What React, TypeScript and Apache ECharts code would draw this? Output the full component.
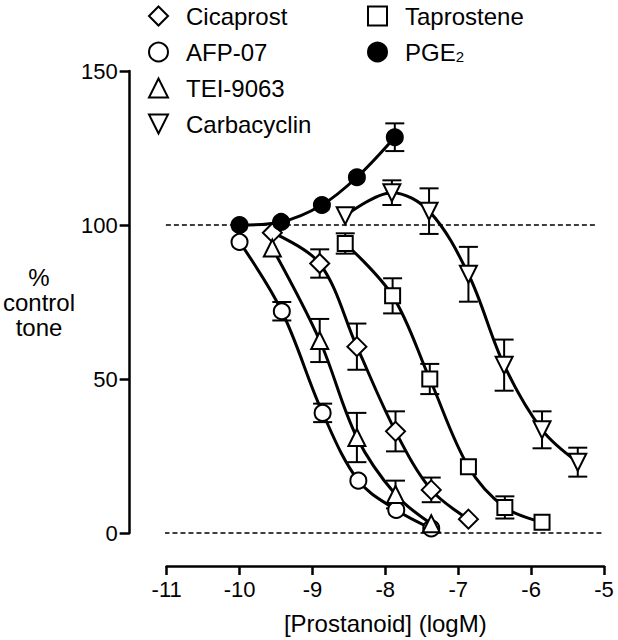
import React, { useEffect, useRef } from "react";
import * as echarts from "echarts";

const FONT = "'Liberation Sans', Arial, Helvetica, sans-serif";

// x ticks: -11 .. -5 ; y ticks: 0 .. 150 step 50
const xMin = -11, xMax = -5, xStep = 1;
const yMin = 0, yMax = 150, yStep = 50;

// Cicaprost (open diamonds)
const cicaprostX = [-9.55, -8.9, -8.39, -7.86, -7.37, -6.86];
const cicaprostY = [97.5, 87.5, 60.5, 33, 14, 4.5];
const cicaprostSem = [0, 4.6, 7.5, 6.5, 4, 0];

// AFP-07 (open circles)
const afpX = [-10, -9.42, -8.86, -8.37, -7.85, -7.37];
const afpY = [94.5, 72, 39, 17, 7.5, 1.5];
const afpSem = [0, 3, 3, 0, 0, 0];

// TEI-9063 (open triangles)
const teiX = [-9.55, -8.9, -8.39, -7.86, -7.37];
const teiY = [92.5, 62.5, 31, 12.5, 3];
const teiSem = [0, 7, 8, 4.5, 0];

// Carbacyclin (open inverted triangles)
const carbaX = [-8.55, -7.91, -7.4, -6.86, -6.37, -5.85, -5.36];
const carbaY = [103, 110.5, 104.5, 84, 54.5, 33.5, 23];
const carbaSem = [0, 4, 7.4, 8.9, 8.3, 6, 4.7];

// Taprostene (open squares)
const taprX = [-8.55, -7.9, -7.39, -6.86, -6.36, -5.85];
const taprY = [94, 77, 50, 21.5, 8.3, 3.5];
const taprSem = [3.3, 5.7, 4.9, 0, 3.6, 0];

// PGE2 (filled circles)
const pgeX = [-10, -9.43, -8.87, -8.39, -7.87];
const pgeY = [100, 101, 106.5, 115.5, 128.5];
const pgeSem = [0, 0, 0, 0, 4.5];

// dashed reference levels (% control tone)
const refLevels = [100, 0];
const refFromX = [-11.12, -11.03];
const refToX = [-5.09, -5.01];

const DOWN_TRI = "path://M0,0L10,0L5,10Z";

export default function App() {
  const ref = useRef<HTMLDivElement>(null);
  useEffect(() => {
    if (!ref.current) return;
    const chart = echarts.init(ref.current, undefined, { renderer: "svg" });

    const mk = (
      name: string,
      xs: number[],
      ys: number[],
      symbol: string,
      size: number,
      fill: string
    ) => ({
      type: "line",
      name,
      data: xs.map((x, i) => [x, ys[i]]),
      symbol,
      symbolSize: size,
      showAllSymbol: true,
      smooth: 0.35,
      clip: false,
      z: 3,
      lineStyle: { color: "#000", width: 3 },
      itemStyle: { color: fill, borderColor: "#000", borderWidth: 2, opacity: 1 },
      emphasis: { disabled: true },
    });

    const errData: number[][] = [];
    const addErr = (xs: number[], ys: number[], sem: number[]) => {
      xs.forEach((x, i) => {
        if (sem[i] > 0) errData.push([x, ys[i] - sem[i], ys[i] + sem[i]]);
      });
    };
    addErr(cicaprostX, cicaprostY, cicaprostSem);
    addErr(afpX, afpY, afpSem);
    addErr(teiX, teiY, teiSem);
    addErr(carbaX, carbaY, carbaSem);
    addErr(taprX, taprY, taprSem);
    addErr(pgeX, pgeY, pgeSem);

    const refSeries = refLevels.map((v, i) => ({
      type: "line",
      name: "ref" + i,
      data: [
        [refFromX[i], v],
        [refToX[i], v],
      ],
      symbol: "none",
      clip: false,
      silent: true,
      z: 0,
      lineStyle: { color: "#000", width: 1.5, type: [5, 3] },
      emphasis: { disabled: true },
    }));

    const legendCommon = {
      orient: "vertical",
      top: 4,
      padding: 0,
      itemGap: 12,
      itemWidth: 19,
      itemHeight: 19,
      selectedMode: false,
      textStyle: {
        fontSize: 24,
        color: "#000",
        fontFamily: FONT,
        padding: [0, 0, 0, 13],
        rich: {
          sub: { fontSize: 15, fontFamily: FONT, color: "#000", verticalAlign: "bottom", padding: [8, 0, 0, 0] },
        },
      },
      itemStyle: { color: "#fff", borderColor: "#000", borderWidth: 2 },
      formatter: (n: string) => (n === "PGE2" ? "PGE{sub|2}" : n),
    };

    chart.setOption({
      animation: false,
      backgroundColor: "#fff",
      textStyle: { fontFamily: FONT },
      grid: { left: 142, right: 14, top: 71, bottom: 107, containLabel: false },
      legend: [
        {
          ...legendCommon,
          left: 148,
          data: [
            { name: "Cicaprost", icon: "diamond" },
            { name: "AFP-07", icon: "circle" },
            { name: "TEI-9063", icon: "triangle" },
            { name: "Carbacyclin", icon: DOWN_TRI },
          ],
        },
        {
          ...legendCommon,
          left: 367,
          data: [
            { name: "Taprostene", icon: "rect" },
            { name: "PGE2", icon: "circle", itemStyle: { color: "#000", borderColor: "#000" } },
          ],
        },
      ],
      xAxis: {
        type: "value",
        min: xMin,
        max: xMax,
        interval: xStep,
        offset: 33,
        name: "[Prostanoid] (logM)",
        nameLocation: "middle",
        nameGap: 57,
        nameTextStyle: { fontSize: 24, color: "#000", fontFamily: FONT, verticalAlign: "middle" },
        splitLine: { show: false },
        axisLine: { onZero: false, lineStyle: { color: "#000", width: 2.5 } },
        axisTick: { inside: false, length: 9, lineStyle: { color: "#000", width: 2.5 } },
        axisLabel: { fontSize: 22, color: "#000", margin: 12, fontFamily: FONT },
      },
      yAxis: {
        type: "value",
        min: yMin,
        max: yMax,
        interval: yStep,
        offset: 37,
        name: "%\ncontrol\ntone",
        nameLocation: "middle",
        nameRotate: 0,
        nameGap: 63,
        nameTextStyle: {
          fontSize: 24,
          lineHeight: 25,
          color: "#000",
          fontFamily: FONT,
          align: "center",
          verticalAlign: "middle",
        },
        splitLine: { show: false },
        axisLine: { show: true, onZero: false, lineStyle: { color: "#000", width: 2.5 } },
        axisTick: { show: true, inside: false, length: 10, lineStyle: { color: "#000", width: 2.5 } },
        axisLabel: { fontSize: 22, color: "#000", margin: 12, fontFamily: FONT },
      },
      series: [
        ...refSeries,
        {
          type: "custom",
          name: "sem",
          data: errData,
          encode: { x: 0, y: [1, 2] },
          clip: false,
          z: 1,
          silent: true,
          renderItem: (params: any, api: any) => {
            const x = api.value(0);
            const lo = api.coord([x, api.value(1)]);
            const hi = api.coord([x, api.value(2)]);
            const hw = 9.5;
            const st = { stroke: "#000", lineWidth: 2, fill: "none" };
            return {
              type: "group",
              children: [
                { type: "line", shape: { x1: hi[0], y1: hi[1], x2: lo[0], y2: lo[1] }, style: st },
                { type: "line", shape: { x1: hi[0] - hw, y1: hi[1], x2: hi[0] + hw, y2: hi[1] }, style: st },
                { type: "line", shape: { x1: lo[0] - hw, y1: lo[1], x2: lo[0] + hw, y2: lo[1] }, style: st },
              ],
            };
          },
        },
        mk("Cicaprost", cicaprostX, cicaprostY, "diamond", 19, "#fff"),
        mk("AFP-07", afpX, afpY, "circle", 16, "#fff"),
        mk("TEI-9063", teiX, teiY, "triangle", 17, "#fff"),
        mk("Carbacyclin", carbaX, carbaY, DOWN_TRI, 17, "#fff"),
        mk("Taprostene", taprX, taprY, "rect", 15, "#fff"),
        mk("PGE2", pgeX, pgeY, "circle", 16, "#000"),
      ],
    });
    return () => chart.dispose();
  }, []);
  return (
    <div
      ref={ref}
      style={{ position: "absolute", left: 0, top: 0, width: 618, height: 640, background: "#fff" }}
    />
  );
}
